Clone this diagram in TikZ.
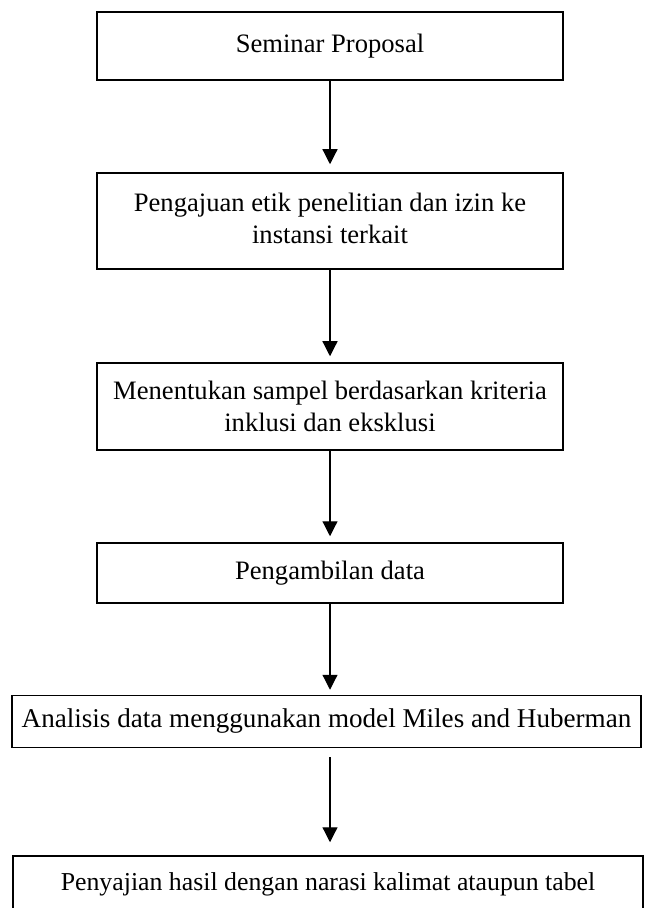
\documentclass[tikz,border=0pt]{standalone}
\usepackage{fontspec}
\setmainfont{Liberation Serif}
\usetikzlibrary{arrows.meta}
\begin{document}
\begin{tikzpicture}[x=0.5pt,y=-0.5pt,
  box/.style={draw,line width=0.75pt,rectangle,inner sep=0pt,align=center,font=\fontsize{13.3}{16}\selectfont},
  arr/.style={line width=0.6pt,-{Triangle[width=7.5pt,length=7.5pt]}}]
\useasboundingbox (0,0) rectangle (644,908);
\node[box,minimum width=233pt,minimum height=34pt] (b1) at (330,46) {Seminar Proposal};
\node[box,minimum width=233pt,minimum height=48pt] (b2) at (330,221) {\raisebox{2pt}{\begin{tabular}{@{}c@{}}Pengajuan etik penelitian dan izin ke\\instansi terkait\end{tabular}}};
\node[box,minimum width=233pt,minimum height=43.5pt] (b3) at (330,406.5) {Menentukan sampel berdasarkan kriteria\\inklusi dan eksklusi};
\node[box,minimum width=233pt,minimum height=30pt] (b4) at (330,573) {Pengambilan data};
\node[box,minimum width=314.5pt,minimum height=26pt,font=\fontsize{13.55}{16}\selectfont] (b5) at (326.5,721.5) {Analisis data menggunakan model Miles and Huberman};
\node[box,minimum width=315pt,minimum height=28pt,font=\fontsize{12.9}{16}\selectfont] (b6) at (328,884) {Penyajian hasil dengan narasi kalimat ataupun tabel};
\draw[arr,shorten >=4pt] (b1.south) -- (b2.north);
\draw[arr,shorten >=3pt] (b2.south) -- (b3.north);
\draw[arr,shorten >=3pt] (b3.south) -- (b4.north);
\draw[arr,shorten >=2.5pt] (b4.south) -- (b4.south |- b5.north);
\draw[arr,shorten <=4.5pt,shorten >=6.5pt] (b4.south |- b5.south) -- (b4.south |- b6.north);
\end{tikzpicture}
\end{document}
